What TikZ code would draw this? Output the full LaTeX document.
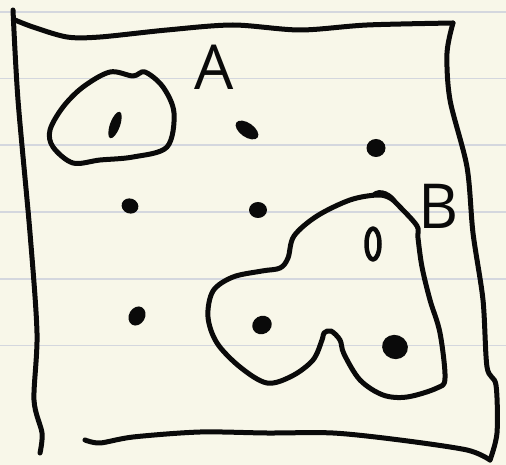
\documentclass[tikz,border=0pt]{standalone}
\usepackage{fontspec}
\setmainfont{Open Sans}
\usepackage{xcolor}
\definecolor{paperCream}{RGB}{248,247,233}
\definecolor{ruleGray}{RGB}{212,215,222}
\definecolor{inkBlack}{RGB}{10,10,10}
\usetikzlibrary{positioning}

\begin{document}
\begin{tikzpicture}[x=1pt,y=-1pt,
  ink/.style={draw=inkBlack,line width=5pt,line cap=round,line join=round},
  blob/.style={ink,smooth cycle,tension=0.55},
  pt/.style={fill=inkBlack},
  letter/.style={font=\fontsize{62}{62}\selectfont,text=inkBlack,inner sep=0pt}]
  % paper
  \fill[paperCream] (0,0) rectangle (506,465);
  \useasboundingbox (0,0) rectangle (506,465);
  \foreach \ry in {12,78.7,145.3,212,278.7,345.3}
    \draw[ruleGray,line width=1.6pt] (0,\ry) -- (506,\ry);
  % outer frame
  \draw[ink] plot[smooth,tension=0.5] coordinates {(13,10) (18,100) (30,233) (37,333) (34,400) (42,433) (40,453)};
  \draw[ink] plot[smooth,tension=0.5] coordinates {(15,20) (33,27) (67,37) (100,37) (167,30) (233,25) (300,30) (367,25) (453,23)};
  \draw[ink] plot[smooth,tension=0.5] coordinates {(453,23) (447,53) (450,100) (467,167) (473,233) (483,300) (487,367) (496,385) (497,433) (490,460)};
  \draw[ink] plot[smooth,tension=0.5] coordinates {(85,440) (100,443) (133,437) (200,432) (267,433) (333,433) (400,440) (467,450) (490,460)};
  % region A
  \draw[blob] plot coordinates {(110,72) (133,76) (145,72) (163,87) (174,113) (167,147) (133,157) (100,160) (73,163) (53,147) (50,130) (63,107) (83,87)};
  \node[letter] (labA) at (214,67) {A};
  % region B
  \draw[blob] plot coordinates {(377,195) (350,200) (317,216) (294,236) (288,258) (280,268) (262,271) (233,277) (213,291) (208,317) (217,343) (240,367) (267,383) (292,376) (313,360) (322,340) (324,333) (331,331) (340,340) (344,354) (360,380) (383,395) (407,397) (437,388) (445,378) (440,333) (430,300) (422,267) (418,238) (417,226) (400,207) (390,198)};
  \draw[ink,line width=4pt] (373,195) .. controls (380,188) and (392,195) .. (396,203);
  \node[letter] (labB) at (439,206) {B};
  % sample points
  \fill[pt,rotate around={70:(115,125)}] (115,125) ellipse (14 and 5);
  \fill[pt,rotate around={-35:(247,130)}] (247,130) ellipse (13 and 7);
  \fill[pt] (376,148) ellipse (9.5 and 9);
  \fill[pt,rotate around={-20:(130,206)}] (130,206) ellipse (8.5 and 7.5);
  \fill[pt] (258,210) ellipse (9 and 8);
  \draw[ink,line width=4.5pt] (373,244) ellipse (6.5 and 15.5);
  \fill[pt,rotate around={60:(137,316)}] (137,316) ellipse (10 and 8);
  \fill[pt,rotate around={30:(262,325)}] (262,325) ellipse (10 and 9);
  \fill[pt,rotate around={-20:(395,347)}] (395,347) ellipse (13 and 12);
\end{tikzpicture}
\end{document}
